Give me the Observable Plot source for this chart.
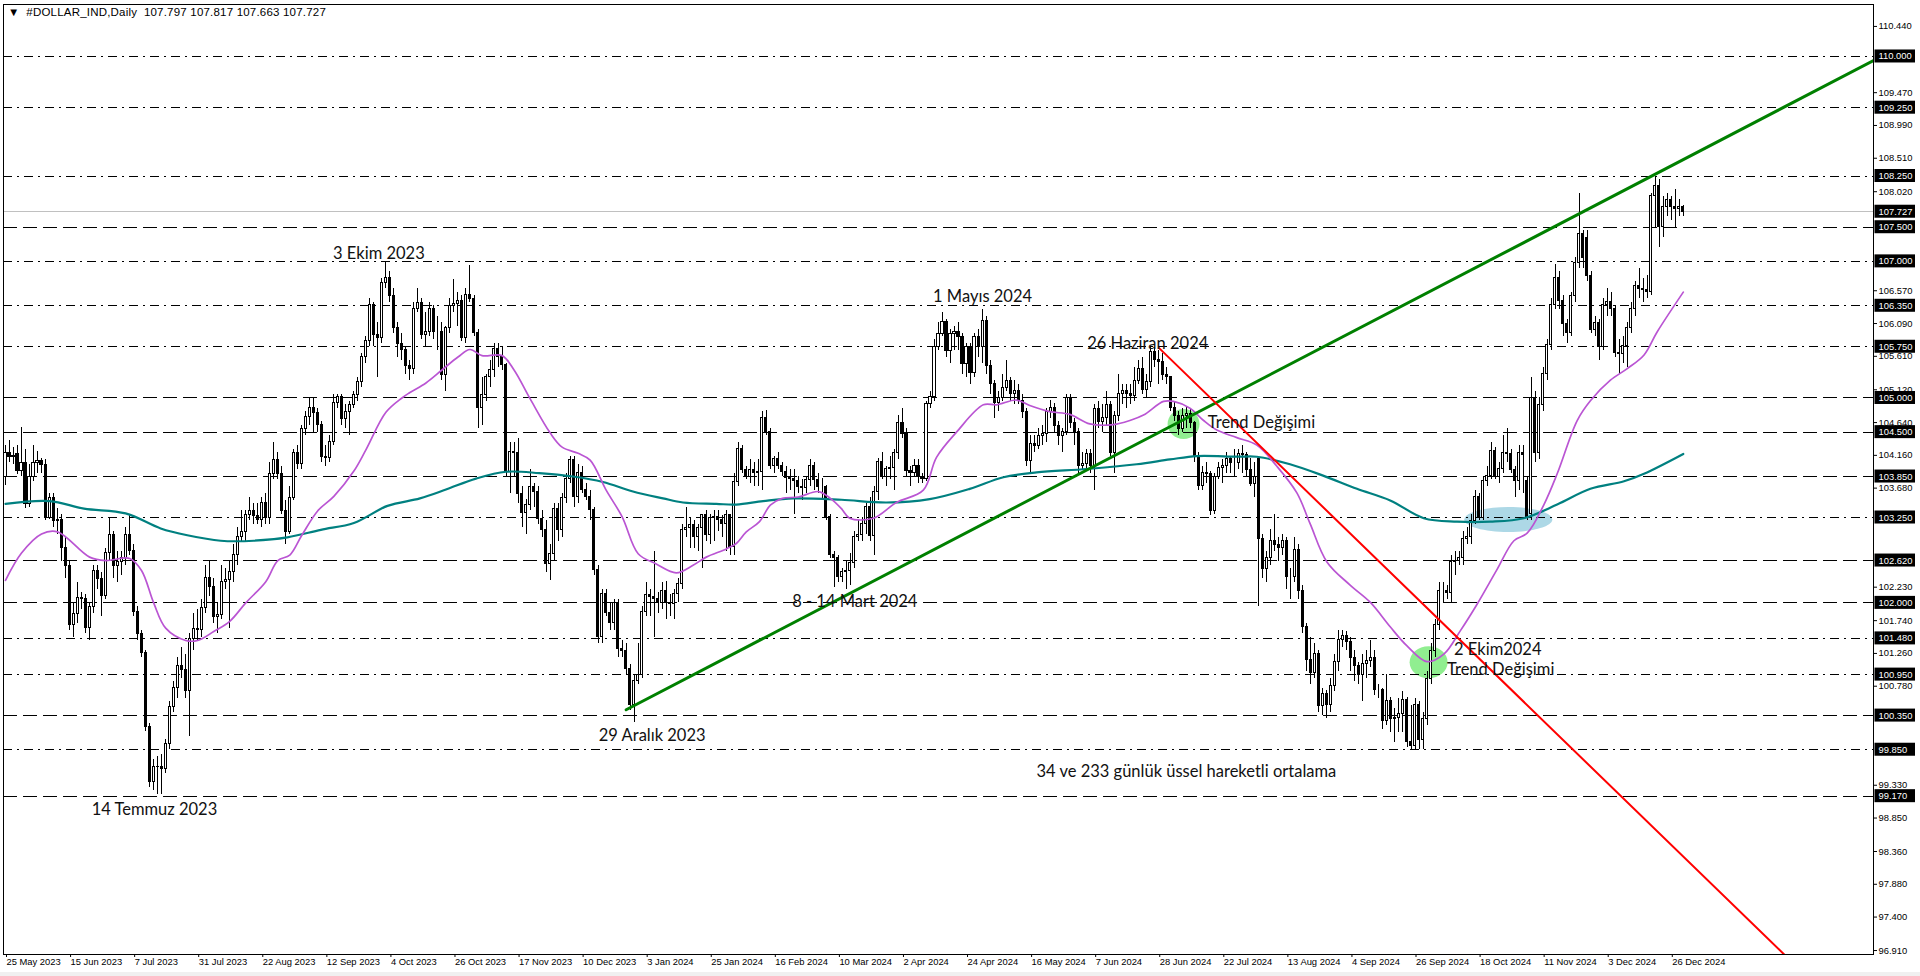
<!DOCTYPE html>
<html>
<head>
<meta charset="utf-8">
<script src="https://cdn.jsdelivr.net/npm/d3@7"></script>
<script src="https://cdn.jsdelivr.net/npm/@observablehq/plot@0.6"></script>
<style>
  html, body { margin: 0; padding: 0; background: #f0f0f0; width: 1920px; height: 976px; overflow: hidden; }
  #wrap { position: relative; width: 1920px; height: 972px; background: #fff; }
  #title { position: absolute; left: 8px; top: 6px; font-family: "Liberation Sans", Arial, sans-serif; font-size: 11.5px; letter-spacing: 0.2px; color: #000; white-space: pre; }
  svg { display: block; }
</style>
</head>
<body>
<div id="wrap"><div id="title">▼  #DOLLAR_IND,Daily  107.797 107.817 107.663 107.727</div></div>
<script>
// ---- Daily candles, [open, high, low, close], bar 0 = 25 May 2023 ----
const ohlc = [
[103.85,104.3,103.72,104.19],[104.19,104.38,104.05,104.14],[104.14,104.28,104.02,104.15],[104.18,104.3,103.88,103.93],[103.93,104.57,103.85,104.05],
[104.05,104.25,103.38,103.45],[103.45,104.02,103.4,103.85],[103.85,104.3,103.78,104.05],[104.05,104.22,103.9,104.08],[104.08,104.12,103.9,104.02],
[104.02,104.1,103.2,103.25],[103.25,103.6,103.22,103.54],[103.54,103.6,103.1,103.2],[103.2,103.38,103.0,103.22],[103.22,103.3,102.6,102.8],
[102.8,102.95,102.35,102.54],[102.54,102.6,101.6,101.68],[101.68,102.0,101.5,101.84],[101.84,102.3,101.7,102.07],[102.07,102.15,101.9,102.05],
[102.05,102.12,101.55,101.63],[101.63,102.0,101.45,101.94],[101.94,102.55,101.85,102.46],[102.46,102.55,102.2,102.35],[102.35,102.45,101.8,102.1],
[102.1,102.8,102.05,102.73],[102.73,103.25,102.6,102.99],[102.99,103.05,102.35,102.54],[102.54,102.75,102.3,102.6],[102.6,102.75,102.4,102.65],
[102.65,103.1,102.55,102.99],[102.99,103.3,102.7,102.76],[102.76,102.85,101.8,101.86],[101.86,101.95,101.45,101.55],[101.55,101.6,101.2,101.26],
[101.26,101.3,100.12,100.19],[100.19,100.24,99.3,99.38],[99.38,99.7,99.25,99.59],[99.59,99.75,99.2,99.6],[99.6,99.78,99.2,99.57],
[99.57,100.0,99.5,99.93],[99.93,100.55,99.85,100.48],[100.48,100.85,100.4,100.76],[100.76,101.2,100.6,101.08],[101.08,101.35,100.9,101.02],
[101.02,101.25,100.6,100.71],[100.71,101.55,100.05,101.47],[101.47,101.85,101.3,101.62],[101.62,101.9,101.45,101.6],[101.6,102.05,101.5,101.93],
[101.93,102.55,101.85,102.36],[102.36,102.6,102.1,102.23],[102.23,102.35,101.7,101.79],[101.79,102.0,101.55,101.82],[101.82,102.55,101.75,102.31],
[102.31,102.5,102.2,102.33],[102.33,102.6,101.62,102.45],[102.45,102.85,102.3,102.7],[102.7,103.1,102.55,102.96],[102.96,103.35,102.9,103.04],
[103.04,103.35,102.9,103.28],[103.28,103.55,103.2,103.35],[103.35,103.45,103.15,103.27],[103.27,103.45,103.15,103.22],[103.22,103.55,103.1,103.46],
[103.46,103.6,103.15,103.25],[103.25,104.05,103.15,103.88],[103.88,104.35,103.8,104.09],[104.09,104.2,103.8,103.88],[103.88,104.0,103.3,103.35],
[103.35,103.5,102.85,103.04],[103.04,103.7,103.0,103.54],[103.54,104.25,103.5,104.19],[104.19,104.3,103.95,104.03],[104.03,104.6,103.95,104.54],
[104.54,104.8,104.45,104.72],[104.72,105.0,104.6,104.85],[104.85,105.0,104.5,104.78],[104.78,104.85,104.5,104.6],[104.6,104.65,104.05,104.14],
[104.14,104.3,104.0,104.12],[104.12,104.45,104.05,104.35],[104.35,105.05,104.3,104.92],[104.92,105.05,104.85,105.02],[105.02,105.05,104.6,104.69],
[104.69,104.9,104.55,104.8],[104.8,104.95,104.45,104.9],[104.9,105.1,104.85,105.05],[105.05,105.3,104.95,105.24],[105.24,105.65,105.15,105.6],
[105.6,105.9,105.5,105.84],[105.84,106.45,105.75,106.36],[106.36,106.4,105.75,105.92],[105.92,106.1,105.3,105.88],[105.88,106.75,105.8,106.68],
[106.68,107.0,106.6,106.75],[106.75,106.85,106.4,106.49],[106.49,106.6,105.95,106.02],[106.02,106.1,105.6,105.79],[105.79,105.95,105.55,105.7],
[105.7,105.75,105.35,105.47],[105.47,105.55,105.25,105.42],[105.42,106.4,105.35,106.31],[106.31,106.6,106.25,106.39],[106.39,106.45,105.85,105.92],
[105.92,106.25,105.75,105.97],[105.97,106.4,105.9,106.3],[106.3,106.35,105.85,105.97],[105.97,106.2,105.7,105.97],[105.97,106.1,105.25,105.34],
[105.34,106.05,105.1,106.02],[106.02,106.45,105.95,106.34],[106.34,106.73,106.25,106.37],[106.37,106.55,106.05,106.42],[106.42,106.5,105.82,105.88],
[105.88,106.6,105.8,106.51],[106.51,106.94,106.4,106.45],[106.45,106.5,105.9,105.95],[105.95,106.0,104.55,104.85],[104.85,105.3,104.6,105.05],
[105.05,105.35,104.95,105.31],[105.31,105.55,105.15,105.41],[105.41,105.8,105.3,105.71],[105.71,105.8,105.45,105.6],[105.6,105.75,105.4,105.48],
[105.48,105.5,103.85,103.92],[103.92,104.35,103.6,104.21],[104.21,104.35,103.85,104.2],[104.2,104.4,103.45,103.6],[103.6,103.7,103.1,103.31],
[103.31,103.52,103.0,103.43],[103.43,103.95,103.35,103.7],[103.7,103.75,103.4,103.62],[103.62,103.7,103.15,103.23],[103.23,103.35,102.95,103.06],
[103.06,103.2,102.45,102.57],[102.57,102.85,102.33,102.72],[102.72,103.45,102.6,103.38],[103.38,103.45,102.9,103.07],[103.07,103.6,102.95,103.53],
[103.53,103.9,103.45,103.82],[103.82,104.15,103.75,104.09],[104.09,104.15,103.4,103.55],[103.55,104.02,103.45,103.9],[103.9,104.0,103.6,103.65],
[103.65,103.75,103.5,103.55],[103.55,103.65,103.2,103.36],[103.36,103.4,102.4,102.48],[102.48,102.55,101.4,101.5],[101.5,102.2,101.4,102.13],
[102.13,102.2,101.8,101.85],[101.85,102.0,101.6,101.7],[101.7,102.05,101.6,102.0],[102.0,102.05,101.2,101.33],[101.33,101.45,101.2,101.3],
[101.3,101.4,100.95,101.03],[101.03,101.1,100.42,100.5],[100.5,100.95,100.25,100.86],[100.86,101.4,100.8,100.94],[100.94,101.95,100.9,101.87],
[101.87,102.3,101.8,102.11],[102.11,102.2,101.8,102.08],[102.08,102.75,101.5,102.05],[102.05,102.15,101.85,102.0],[102.0,102.3,101.9,102.18],
[102.18,102.32,101.75,102.0],[102.0,102.12,101.8,101.98],[101.98,102.2,101.75,102.13],[102.13,102.35,102.0,102.28],[102.28,103.15,102.2,103.06],
[103.06,103.4,102.95,103.1],[103.1,103.25,102.8,103.14],[103.14,103.2,102.8,102.97],[102.97,103.15,102.75,103.09],[103.09,103.3,102.5,103.28],
[103.28,103.35,102.9,102.99],[102.99,103.3,102.85,103.24],[103.24,103.35,102.9,103.26],[103.26,103.35,103.05,103.22],[103.22,103.28,102.95,103.15],
[103.15,103.35,102.75,103.28],[103.28,103.3,102.7,102.82],[102.82,103.9,102.7,103.77],[103.77,104.35,103.7,104.26],[104.26,104.3,103.9,103.94],
[103.94,104.0,103.8,103.85],[103.85,104.1,103.75,103.95],[103.95,104.05,103.7,103.9],[103.9,104.1,103.7,103.92],[103.92,104.8,103.65,104.7],
[104.7,104.82,104.45,104.5],[104.5,104.55,103.95,104.0],[104.0,104.15,103.9,104.1],[104.1,104.2,103.95,104.0],[104.0,104.05,103.85,103.92],
[103.92,104.0,103.6,103.83],[103.83,103.95,103.65,103.81],[103.81,103.95,103.3,103.78],[103.78,103.85,103.6,103.7],[103.7,103.8,103.5,103.68],
[103.68,103.85,103.6,103.8],[103.8,104.1,103.7,104.0],[104.0,104.05,103.65,103.8],[103.8,103.9,103.6,103.7],[103.7,103.82,103.5,103.7],
[103.7,103.72,103.2,103.26],[103.26,103.3,102.65,102.7],[102.7,102.75,102.23,102.65],[102.65,102.7,102.3,102.38],[102.38,102.5,102.3,102.45],
[102.45,102.6,102.2,102.47],[102.47,102.72,102.25,102.58],[102.58,103.05,102.5,102.96],[102.96,103.2,102.9,103.0],[103.0,103.25,102.9,103.15],
[103.15,103.45,103.0,103.4],[103.4,103.55,102.9,102.98],[102.98,103.7,102.7,103.62],[103.62,104.12,103.5,104.06],[104.06,104.2,103.8,103.84],
[103.84,104.0,103.7,103.96],[103.96,104.15,103.8,103.97],[103.97,104.25,103.65,104.2],[104.2,104.75,104.1,104.63],[104.63,104.85,104.4,104.47],
[104.47,104.55,103.85,103.93],[103.93,104.0,103.7,103.9],[103.9,104.1,103.85,104.0],[104.0,104.1,103.75,103.84],[103.84,103.9,103.75,103.81],
[103.81,104.95,103.78,104.91],[104.91,105.1,104.85,105.01],[105.01,105.85,104.95,105.74],[105.74,106.1,105.7,105.93],[105.93,106.25,105.9,106.11],
[106.11,106.15,105.6,105.69],[105.69,106.0,105.5,105.93],[105.93,106.05,105.7,105.96],[105.96,106.1,105.7,105.9],[105.9,105.95,105.35,105.5],
[105.5,105.8,105.3,105.74],[105.74,105.8,105.2,105.37],[105.37,105.95,105.3,105.89],[105.89,106.0,105.6,105.75],[105.75,106.3,105.5,106.13],
[106.13,106.2,105.35,105.47],[105.47,105.55,105.05,105.2],[105.2,105.25,104.7,104.93],[104.93,105.1,104.8,105.0],[105.0,105.35,104.95,105.15],
[105.15,105.55,105.1,105.25],[105.25,105.3,104.95,105.06],[105.06,105.25,104.9,105.1],[105.1,105.2,104.9,104.96],[104.96,105.05,104.7,104.79],
[104.79,104.85,104.0,104.08],[104.08,104.45,103.9,104.32],[104.32,104.45,104.2,104.3],[104.3,104.55,104.25,104.45],[104.45,104.6,104.3,104.47],
[104.47,104.85,104.35,104.79],[104.79,104.97,104.7,104.86],[104.86,104.92,104.5,104.59],[104.59,104.65,104.3,104.45],[104.45,104.55,104.2,104.5],
[104.5,105.05,104.45,105.0],[105.0,105.05,104.55,104.64],[104.64,104.7,104.3,104.5],[104.5,104.55,103.9,104.0],[104.0,104.2,103.95,104.03],
[104.03,104.25,103.95,104.18],[104.18,104.25,103.9,104.0],[104.0,104.9,103.65,104.84],[104.84,104.95,104.55,104.65],[104.65,104.9,104.5,104.7],
[104.7,105.1,104.6,104.89],[104.89,104.95,104.15,104.2],[104.2,104.8,103.9,104.73],[104.73,105.35,104.65,105.06],[105.06,105.2,104.9,105.1],
[105.1,105.2,104.85,105.06],[105.06,105.2,104.9,105.03],[105.03,105.45,104.95,105.25],[105.25,105.55,105.2,105.42],[105.42,105.6,105.05,105.11],
[105.11,105.35,105.0,105.23],[105.23,105.75,105.15,105.67],[105.67,105.74,105.45,105.55],[105.55,105.7,105.2,105.53],[105.53,105.65,105.25,105.33],
[105.33,105.45,105.2,105.3],[105.3,105.32,104.8,104.86],[104.86,104.95,104.65,104.74],[104.74,104.8,104.45,104.55],[104.55,104.85,104.5,104.74],
[104.74,104.88,104.55,104.77],[104.77,104.85,104.55,104.64],[104.64,104.66,104.05,104.13],[104.13,104.2,103.65,103.71],[103.71,104.0,103.65,103.9],
[103.9,104.05,103.75,103.88],[103.88,103.92,103.28,103.35],[103.35,103.9,103.3,103.84],[103.84,104.05,103.8,103.97],[103.97,104.1,103.75,104.0],
[104.0,104.2,103.9,104.1],[104.1,104.15,103.9,104.05],[104.05,104.25,103.85,104.05],[104.05,104.25,103.95,104.18],[104.18,104.3,103.9,104.17],
[104.17,104.2,103.85,103.94],[103.94,104.12,103.7,103.74],[103.74,104.05,103.55,103.85],[104.1,104.15,101.95,102.94],[102.94,103.0,102.35,102.49],
[102.49,102.75,102.3,102.65],[102.65,103.08,102.55,102.9],[102.9,103.3,102.75,102.85],[102.85,102.95,102.6,102.8],[102.8,103.0,102.7,102.9],
[102.9,102.95,102.2,102.38],[102.38,102.5,102.05,102.38],[102.38,102.95,102.3,102.77],[102.77,102.85,102.05,102.18],[102.18,102.25,101.55,101.64],
[101.64,101.7,101.0,101.17],[101.17,101.5,100.8,100.97],[100.97,101.4,100.9,101.25],[101.25,101.3,100.4,100.49],[100.49,100.75,100.35,100.66],
[100.66,100.72,100.3,100.5],[100.5,100.9,100.4,100.78],[100.78,101.25,100.7,101.14],[101.14,101.6,101.0,101.45],[101.45,101.6,101.35,101.52],
[101.52,101.58,101.3,101.43],[101.43,101.5,101.0,101.2],[101.2,101.3,100.85,101.08],[101.08,101.12,100.8,100.95],[100.95,101.25,100.55,101.1],
[101.1,101.3,100.9,101.15],[101.15,101.45,101.05,101.2],[101.2,101.3,100.65,100.72],[100.72,100.8,100.6,100.72],[100.72,100.75,100.15,100.27],
[100.27,100.95,100.2,100.57],[100.57,100.62,100.1,100.3],[100.3,100.45,99.95,100.32],[100.32,100.6,100.1,100.38],[100.38,100.7,100.1,100.58],
[100.58,100.62,99.88,99.96],[99.96,100.5,99.85,99.9],[99.9,100.6,99.85,100.5],[100.5,100.55,99.85,99.99],[99.99,100.4,99.85,100.3],
[100.3,101.0,100.2,100.89],[100.89,101.4,100.8,101.3],[101.3,101.75,101.2,101.67],[101.67,102.3,101.6,102.17],[102.17,102.3,102.0,102.17],
[102.17,102.25,102.05,102.14],[102.14,102.7,102.0,102.6],[102.6,102.75,102.4,102.62],[102.62,102.75,102.55,102.65],[102.65,103.05,102.55,102.94],
[102.94,103.1,102.85,102.96],[102.96,103.3,102.85,103.2],[103.2,103.65,103.15,103.55],[103.55,103.6,103.2,103.24],[103.24,103.85,103.2,103.78],
[103.78,104.0,103.7,103.86],[103.86,104.35,103.8,104.22],[104.22,104.28,103.8,103.84],[103.84,104.05,103.75,103.96],[103.96,104.45,103.9,104.2],
[104.2,104.55,104.05,104.18],[104.18,104.25,103.9,103.95],[103.95,104.0,103.55,103.78],[103.78,104.3,103.65,104.2],[104.2,104.3,103.6,104.17],
[103.78,103.85,103.2,103.24],[103.3,105.3,103.2,105.0],[105.0,105.1,104.05,104.2],[104.2,105.0,104.1,104.9],[104.9,105.45,104.8,105.35],
[105.35,105.85,105.25,105.77],[105.77,106.45,105.7,106.36],[106.36,106.95,106.3,106.75],[106.75,106.85,106.3,106.42],[106.42,106.5,105.9,106.08],
[106.08,106.15,105.8,105.95],[105.95,106.55,105.9,106.5],[106.5,107.05,106.4,106.97],[106.97,108.0,106.9,107.4],[107.4,107.45,106.9,107.05],
[107.34,107.45,106.7,106.78],[106.78,106.85,105.95,106.0],[106.0,106.2,105.9,106.1],[106.1,106.15,105.55,105.74],[105.74,106.45,105.7,106.36],
[106.36,106.6,106.2,106.4],[106.4,106.55,106.2,106.3],[106.3,106.35,105.6,105.66],[105.66,105.85,105.35,105.65],[105.65,105.9,105.5,105.76],
[105.76,106.1,105.45,106.02],[106.02,106.4,105.95,106.3],[106.3,106.7,106.2,106.64],[106.64,106.9,106.45,106.6],[106.6,106.75,106.4,106.58],
[106.58,106.8,106.45,106.55],[106.55,108.0,106.5,107.96],[107.96,108.24,107.5,108.1],[108.1,108.2,107.2,107.51],[107.51,107.95,107.35,107.79],
[107.79,108.0,107.65,107.9],[107.9,107.95,107.6,107.8],[107.8,108.05,107.5,107.76],[107.76,107.9,107.65,107.8],[107.797,107.817,107.663,107.727]
];

// ---- Moving averages (bar index, value) ----
const ema34Idx = [0,4,9,13,21,25,31,34,37,40,45,48,52,56,60,65,68,71,74,78,82,87,90,95,99,101,105,109,113,116,119,124,127,131,136,139,143,146,150,154,158,162.5,167.5,171.7,175,180,182.5,185,188.3,191,194,198,203,206,208.75,210.8,216.7,222.5,229.2,232.5,237.5,244.2,247.5,252.5,255.8,260.8,265.8,270.8,276.7,280.8,284.2,289.2,291.7,295.8,299.2,302.5,307.5,312.5,317.5,322.5,325.8,330,335.8,340.8,345.8,350,355,359.2,363.3,367.5,372.5,376.7,380,384.2,387.5,392.5,395.8,400.8,405,409.2,412.5,419];
const ema34Val = [102.33,102.73,103.01,103.04,102.67,102.62,102.65,102.47,102.0,101.63,101.45,101.45,101.58,101.73,102.0,102.31,102.62,102.7,102.99,103.35,103.56,103.93,104.24,104.79,105.0,105.08,105.22,105.41,105.6,105.71,105.62,105.62,105.41,104.99,104.49,104.28,104.19,104.09,103.65,103.26,102.72,102.57,102.44,102.55,102.67,102.79,102.87,103.04,103.19,103.43,103.53,103.55,103.63,103.53,103.38,103.24,103.24,103.47,103.65,104.13,104.5,104.9,104.9,104.97,104.89,104.8,104.76,104.62,104.61,104.67,104.75,104.95,104.95,104.85,104.67,104.53,104.42,104.31,104.0,103.61,103.16,102.6,102.26,102.01,101.65,101.37,101.14,101.25,101.59,101.98,102.49,102.91,103.02,103.44,103.89,104.67,104.96,105.26,105.43,105.63,105.97,106.55];
const ema233Idx = [0,11,19.6,30,38.75,45.4,53.75,62,70.4,78.75,87,95.4,103.5,110,117.5,125,133.3,141.7,149.2,156.7,164.2,169.2,177.5,182.5,189.2,196.7,208.75,220,230.8,240.8,249.2,257.5,270,282.5,290.8,297.5,307.5,312.5,320.8,329.2,337.5,345.8,354.2,362.5,370.8,379.2,387.5,395.8,404.2,409.2,419];
const ema233Val = [103.45,103.49,103.38,103.31,103.09,102.99,102.91,102.91,102.96,103.07,103.17,103.42,103.53,103.66,103.82,103.92,103.9,103.85,103.77,103.63,103.53,103.47,103.45,103.44,103.49,103.53,103.51,103.47,103.52,103.67,103.84,103.91,103.96,104.03,104.1,104.15,104.14,104.14,104.03,103.86,103.67,103.5,103.24,103.19,103.19,103.24,103.44,103.67,103.78,103.89,104.18];

// ---- Trend lines (bar index, value) ----
const greenTrendIdx = [155, 466.5];
const greenTrendVal = [100.435, 109.94];
const redTrendIdx = [288.1, 444.2];
const redTrendVal = [105.73, 96.852];

// ---- Horizontal levels ----
const levelsDashDot = [110.0, 109.25, 108.25, 107.0, 106.35, 105.75, 103.25, 101.48, 100.95, 99.85];
const levelsDash = [107.5, 105.0, 104.5, 103.85, 102.62, 102.0, 100.35, 99.17];
const lastPrice = 107.727;
const boxLabels = [110.0, 109.25, 108.25, 107.727, 107.5, 107.0, 106.35, 105.75, 105.0, 104.5, 103.85, 103.25, 102.62, 102.0, 101.48, 100.95, 100.35, 99.85, 99.17];

// ---- Axis ticks (the ones not hidden behind the level labels) ----
const yTicks = [110.44, 109.47, 108.99, 108.51, 108.02, 106.57, 106.09, 105.61, 105.12, 104.64, 104.16, 103.68, 102.23, 101.74, 101.26, 100.78, 99.33, 98.85, 98.36, 97.88, 97.40, 96.91];
const xTicks = [0,16,32,48,64,80,96,112,128,144,160,176,192,208,224,240,256,272,288,304,320,336,352,368,384,400,416];
const dateLabels = ["25 May 2023","15 Jun 2023","7 Jul 2023","31 Jul 2023","22 Aug 2023","12 Sep 2023","4 Oct 2023","26 Oct 2023","17 Nov 2023","10 Dec 2023","3 Jan 2024","25 Jan 2024","16 Feb 2024","10 Mar 2024","2 Apr 2024","24 Apr 2024","16 May 2024","7 Jun 2024","28 Jun 2024","22 Jul 2024","13 Aug 2024","4 Sep 2024","26 Sep 2024","18 Oct 2024","11 Nov 2024","3 Dec 2024","26 Dec 2024"];

// ---- Annotations (bar index, value) ----
const noteText = ["3 Ekim 2023","1 Mayıs 2024","26 Haziran 2024","8 - 14 Mart 2024","29 Aralık 2023","14 Temmuz 2023","34 ve 233 günlük üssel hareketli ortalama"];
const noteIdx = [93.25, 244, 285.25, 212.1, 161.5, 37.2, 294.9];
const noteVal = [107.11, 106.48, 105.80, 102.02, 100.06, 98.97, 99.53];
const sideText = ["Trend Değişimi", "2 Ekim2024", "Trend Değişimi"];
const sideIdx = [300.25, 361.75, 360];
const sideVal = [104.64, 101.32, 101.02];

// ---- Highlight ellipses (bar index, value) ----
const markIdx = [294.2, 355.4, 375.3];
const markVal = [104.62, 101.13, 103.22];

// ================= drawing =================
const bars = ohlc.map(([o, h, l, c], i) => ({i, o, h, l, c}));
const ema34 = ema34Idx.map((x, k) => ({x, y: ema34Val[k]}));
const ema233 = ema233Idx.map((x, k) => ({x, y: ema233Val[k]}));
const greenTrend = greenTrendIdx.map((x, k) => ({x, y: greenTrendVal[k]}));
const redTrend = redTrendIdx.map((x, k) => ({x, y: redTrendVal[k]}));
const notes = noteText.map((t, k) => ({t, x: noteIdx[k], y: noteVal[k]}));
const sides = sideText.map((t, k) => ({t, x: sideIdx[k], y: sideVal[k]}));

function ellipse(rx, ry) {
  const k = 0.5523;
  return {draw(ctx) {
    ctx.moveTo(rx, 0);
    ctx.bezierCurveTo(rx, ry * k, rx * k, ry, 0, ry);
    ctx.bezierCurveTo(-rx * k, ry, -rx, ry * k, -rx, 0);
    ctx.bezierCurveTo(-rx, -ry * k, -rx * k, -ry, 0, -ry);
    ctx.bezierCurveTo(rx * k, -ry, rx, -ry * k, rx, 0);
    ctx.closePath();
  }};
}

const W = 1920, H = 972;
const mL = 3, mR = 47, mT = 4, mB = 18;
const xDomain = [-0.5, 466.5];
const yDomain = [96.852, 110.761];
const pxPerBar = (W - mL - mR) / (xDomain[1] - xDomain[0]);
const pxPerUnit = (H - mT - mB) / (yDomain[1] - yDomain[0]);
// label boxes on the price axis: from 1px right of the axis, 41px wide, 13px tall
const boxX1 = xDomain[1] + 1.5 / pxPerBar;
const boxX2 = xDomain[1] + 42 / pxPerBar;
const boxHalf = 6.5 / pxPerUnit;

const axisFont = "Liberation Sans, Arial, sans-serif";
const axisSize = 9.4;
const noteFont = "Lato, Open Sans, sans-serif";

const chart = Plot.plot({
  width: W, height: H,
  marginLeft: mL, marginRight: mR, marginTop: mT, marginBottom: mB,
  x: {domain: xDomain, axis: null},
  y: {domain: yDomain, axis: null},
  style: {background: "transparent", overflow: "visible"},
  marks: [
    Plot.dot([0], {x: () => markIdx[0], y: () => markVal[0], symbol: ellipse(16, 15), r: 10, fill: "#90ee90", stroke: "none"}),
    Plot.dot([1], {x: () => markIdx[1], y: () => markVal[1], symbol: ellipse(19, 16), r: 10, fill: "#90ee90", stroke: "none"}),
    Plot.dot([2], {x: () => markIdx[2], y: () => markVal[2], symbol: ellipse(44, 12.5), r: 10, fill: "#add8e6", stroke: "none"}),
    Plot.ruleY(levelsDashDot, {stroke: "#000", strokeWidth: 1, strokeDasharray: "9,5,2,5", shapeRendering: "crispEdges"}),
    Plot.ruleY(levelsDash, {stroke: "#000", strokeWidth: 1, strokeDasharray: "14,6", shapeRendering: "crispEdges"}),
    Plot.ruleY([lastPrice], {stroke: "#c0c0c0", strokeWidth: 1, shapeRendering: "crispEdges"}),
    Plot.ruleX(bars, {x: "i", y1: "l", y2: "h", stroke: "#000", strokeWidth: 1, shapeRendering: "crispEdges"}),
    Plot.rect(bars, {
      x1: d => d.i - 0.26, x2: d => d.i + 0.26, y1: "o", y2: "c",
      fill: d => d.c >= d.o ? "#fff" : "#000", stroke: "#000", strokeWidth: 1,
      shapeRendering: "crispEdges"
    }),
    Plot.line(ema233, {x: "x", y: "y", stroke: "#008080", strokeWidth: 2.2, curve: "catmull-rom"}),
    Plot.line(ema34, {x: "x", y: "y", stroke: "#ba55d3", strokeWidth: 1.7, curve: "catmull-rom"}),
    Plot.line(greenTrend, {x: "x", y: "y", stroke: "#008000", strokeWidth: 3, clip: true}),
    Plot.line(redTrend, {x: "x", y: "y", stroke: "#ff0000", strokeWidth: 2, clip: true}),
    Plot.text(notes, {x: "x", y: "y", text: "t", textAnchor: "middle", lineAnchor: "middle", fontFamily: noteFont, fontSize: 16.5, fill: "#111"}),
    Plot.text(sides, {x: "x", y: "y", text: "t", textAnchor: "start", lineAnchor: "middle", fontFamily: noteFont, fontSize: 16.5, fill: "#111"}),
    Plot.frame({stroke: "#000", strokeWidth: 1, shapeRendering: "crispEdges"}),
    Plot.axisX(xTicks, {
      anchor: "bottom", tickSize: 3, tickPadding: 1, textAnchor: "start", dx: 1,
      tickFormat: d => dateLabels[xTicks.indexOf(d)],
      fontFamily: axisFont, fontSize: axisSize, fill: "#000", stroke: "#000"
    }),
    Plot.axisY(yTicks, {
      anchor: "right", tickSize: 3, tickPadding: 2,
      tickFormat: d => d.toFixed(3),
      fontFamily: axisFont, fontSize: axisSize, fill: "#000", stroke: "#000"
    }),
    Plot.rect(boxLabels, {x1: () => boxX1, x2: () => boxX2, y1: d => d - boxHalf, y2: d => d + boxHalf, fill: "#000", clip: false}),
    Plot.text(boxLabels, {y: d => d, frameAnchor: "right", dx: 5, text: d => d.toFixed(3), textAnchor: "start", fill: "#fff", fontFamily: axisFont, fontSize: axisSize})
  ]
});
document.getElementById("wrap").prepend(chart);
</script>
</body>
</html>
